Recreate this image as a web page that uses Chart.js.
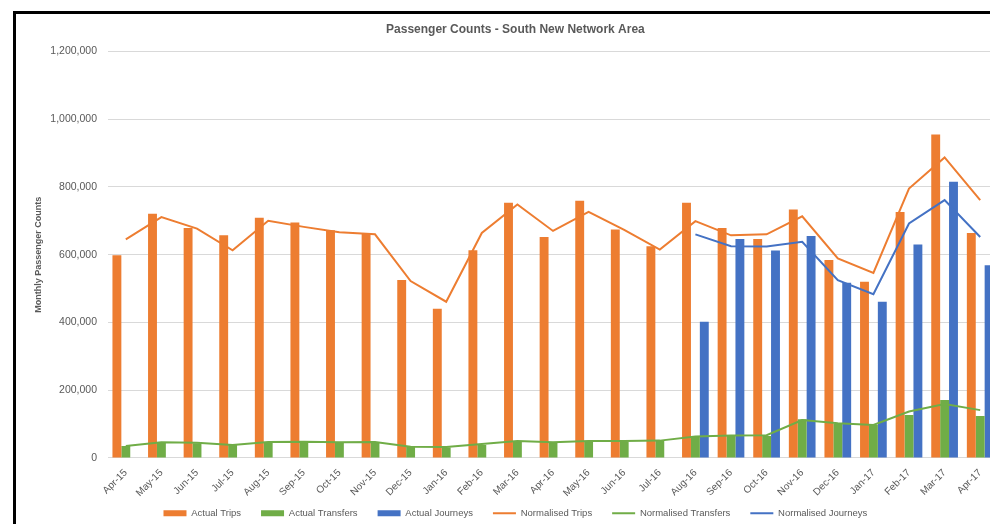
<!DOCTYPE html>
<html><head><meta charset="utf-8">
<script src="https://cdn.jsdelivr.net/npm/chart.js@4.4.1/dist/chart.umd.min.js"></script>
<style>
html,body{margin:0;padding:0;background:#fff;overflow:hidden;width:990px;height:524px;}
#frame{position:absolute;left:13px;top:11px;border-left:3px solid #000;border-top:3px solid #000;width:1010px;height:520px;background:#fff;}
#wrap{position:absolute;left:0;top:0;width:994px;height:514px;}
</style></head><body>
<div id="frame"><div id="wrap"><canvas id="c"></canvas></div></div>
<script>
const categories = ["Apr-15","May-15","Jun-15","Jul-15","Aug-15","Sep-15","Oct-15","Nov-15","Dec-15","Jan-16","Feb-16","Mar-16","Apr-16","May-16","Jun-16","Jul-16","Aug-16","Sep-16","Oct-16","Nov-16","Dec-16","Jan-17","Feb-17","Mar-17","Apr-17"];
const actualTrips = [598000,721000,679000,657000,709000,695000,672000,661000,525000,440000,613000,753000,652000,759000,674000,625000,753000,679000,646000,733000,584000,520000,726000,955000,664000];
const actualTransfers = [35000,46000,43000,38000,46000,46000,45000,45000,32000,31000,38000,50000,46000,49000,48000,50000,65000,65000,65000,114000,100000,97000,127000,171000,124000];
const actualJourneys = [null,null,null,null,null,null,null,null,null,null,null,null,null,null,null,null,402000,646000,612000,655000,517000,461000,630000,815000,569000];
const normalisedTrips = [645000,711000,677000,613000,700000,682000,666000,660000,522000,461000,664000,748000,670000,726000,673000,615000,699000,657000,660000,713000,589000,546000,795000,887000,761000];
const normalisedTransfers = [35000,46000,45000,38000,47000,48000,46000,47000,33000,32000,41000,50000,46000,50000,50000,51000,63000,66000,67000,112000,102000,97000,137000,159000,141000];
const normalisedJourneys = [null,null,null,null,null,null,null,null,null,null,null,null,null,null,null,null,660000,625000,624000,638000,525000,483000,692000,761000,652000];
const yTicks = [0,200000,400000,600000,800000,1000000,1200000];

const ORANGE = '#ED7D31', GREEN = '#70AD47', BLUE = '#4472C4';
const TXT = '#595959', GRID = '#D9D9D9';
const FF = "'Liberation Sans', Arial, sans-serif";

// let rotated category labels extend past the (fixed) axis box instead of being clipped
Chart.CategoryScale.prototype._computeLabelArea = function(){ return undefined; };

function barDs(label, data, color) {
  return {type:'bar', label, data, backgroundColor:color, borderColor:color, borderWidth:0,
          order:1, pointStyle:'rect', categoryPercentage:0.75, barPercentage:1};
}
function lineDs(label, data, color) {
  return {type:'line', label, data, borderColor:color, backgroundColor:color, borderWidth:2,
          pointRadius:0, pointHoverRadius:0, fill:false, tension:0, order:0, pointStyle:'line', spanGaps:false};
}

new Chart(document.getElementById('c'), {
  type:'bar',
  data:{
    labels:categories,
    datasets:[
      barDs('Actual Trips', actualTrips, ORANGE),
      barDs('Actual Transfers', actualTransfers, GREEN),
      barDs('Actual Journeys', actualJourneys, BLUE),
      lineDs('Normalised Trips', normalisedTrips, ORANGE),
      lineDs('Normalised Transfers', normalisedTransfers, GREEN),
      lineDs('Normalised Journeys', normalisedJourneys, BLUE)
    ]
  },
  options:{
    responsive:true, maintainAspectRatio:false, animation:false,
    layout:{padding:{left:16.8,right:12,top:0,bottom:0}},
    plugins:{
      title:{display:true, text:'Passenger Counts - South New Network Area', color:TXT,
             font:{family:FF, size:12, weight:'bold'}, padding:{top:8.5,bottom:14.5}},
      legend:{position:'bottom',
        labels:{usePointStyle:true, pointStyleWidth:23, boxHeight:6, padding:20, color:TXT,
                font:{family:FF, size:9.5}, sort:(a,b)=>a.datasetIndex-b.datasetIndex}},
      tooltip:{enabled:false}
    },
    scales:{
      x:{
        grid:{display:false},
        border:{display:true, color:GRID, width:1},
        ticks:{color:TXT, font:{family:FF, size:10}, maxRotation:45, minRotation:45, autoSkip:false, padding:1},
        afterFit:(s)=>{ s.height = 30.6; }
      },
      y:{
        min:0, max:1200000,
        afterBuildTicks:(s)=>{ s.ticks = yTicks.map(v=>({value:v})); },
        grid:{color:GRID, drawTicks:false},
        border:{display:false},
        ticks:{color:TXT, font:{family:FF, size:10.5}, padding:11,
               callback:(v)=>Number(v).toLocaleString('en-US')},
        title:{display:true, text:'Monthly Passenger Counts', color:TXT,
               font:{family:FF, size:9, weight:'bold'}, padding:{top:0.5,bottom:0}},
        afterFit:(s)=>{ s.width = 75.2; }
      }
    }
  }
});
</script>
</body></html>
